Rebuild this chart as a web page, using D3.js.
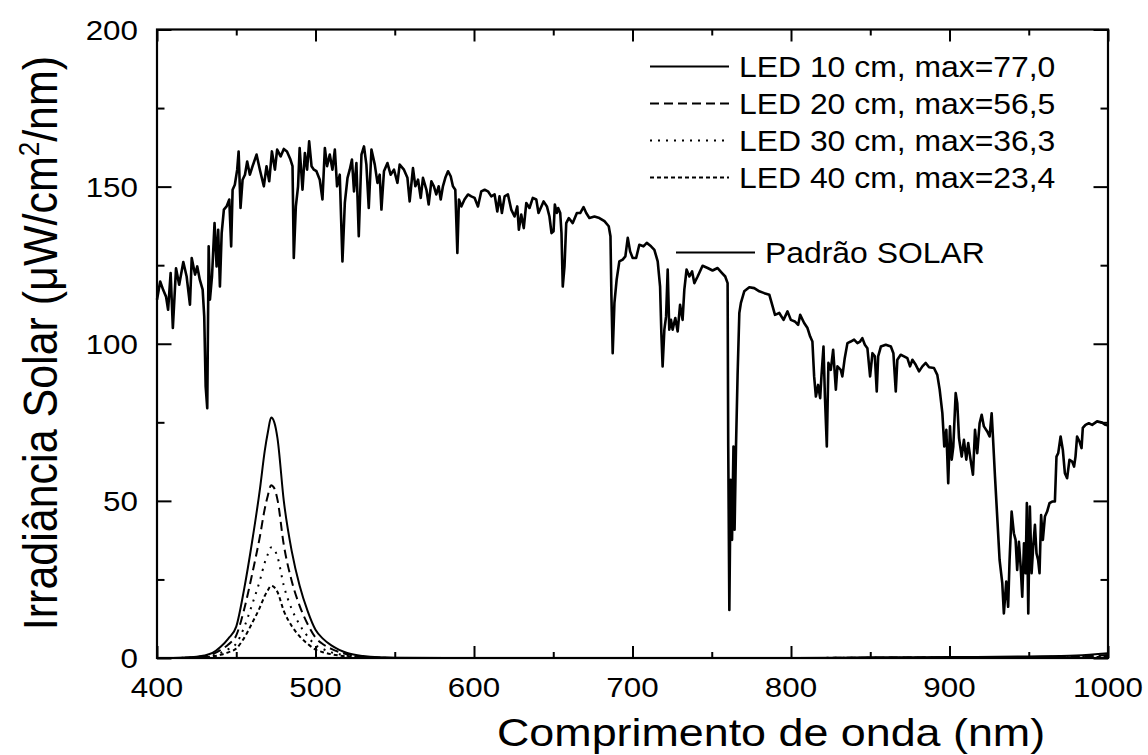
<!DOCTYPE html>
<html><head><meta charset="utf-8">
<script src="https://cdn.jsdelivr.net/npm/d3@7"></script>
<style>body{margin:0;background:#fff}svg{display:block}</style>
</head><body>
<svg id="c" width="1148" height="755"></svg>
<script>
// ---------- DATA ----------
const solarWavelength = [400,402,404,405.7,407,408.6,410,412,414,416.6,418.7,420.8,421.9,424,425.4,427,428.8,429.8,430.7,431.7,432.6,433.4,434.7,436.3,437.6,438.6,439.7,440.8,442.2,443.9,445.6,446.8,447.7,449.1,450.6,451.5,452.7,454,455.5,456.9,458.6,460.3,462.8,464.9,467.4,469.1,470.8,472.5,474.4,475.8,478,480,482,484.2,485.5,486.3,487.6,489,490,491.8,493.3,494.7,496,497.5,499,500.6,502.7,504.4,505.9,507.3,509,510.7,512.2,513.6,515.3,517,518.5,520.2,521.6,523,524.3,525.8,527.3,529,530.6,532.1,533.6,535.3,537.4,539.1,540.5,541.6,543.2,545.4,547.4,549.5,551.7,553.1,555.8,558,559.4,561.5,563,564.7,566.4,567.8,570,571.4,573.1,574.7,576.2,577.7,579,580.4,581.9,583.6,585.3,586.7,588.2,589.5,590.5,592,594,596.2,598.3,600.4,602.5,604.6,606.7,608.8,610.9,613,614.7,616.1,617.6,619.3,621.4,623.5,625.6,627.3,628.3,629.8,631.4,633,635,637.1,639.3,640.7,643.9,646,647.6,648.9,650.2,651,652.3,653.1,654.4,655.2,656,657.1,658.2,659.8,662.3,664.9,667,669.1,670.8,672.8,676,679.1,682.3,685,686.1,686.7,687.5,688.6,690,691.7,693.8,695.5,697,698.5,700.1,702.3,704.3,706.9,709,711.7,713.8,715.9,717.4,718.2,719,720.1,721.2,722.2,723.2,724.3,725.3,727,728.5,730,731.6,732.7,734.1,735.9,737.6,739,741.1,744.2,747.4,750.5,753.7,756.5,758.5,760,760.4,761.1,761.9,762.8,763.7,764.4,765.3,766.3,767.4,768.4,770.5,773.7,776.8,780,783.2,786.3,788.4,789.9,792.6,795.3,797.8,799.9,802.4,804.5,805.8,808.3,810.4,812.1,813.5,814.6,815.7,817.1,818.4,819.2,820.5,821.4,822.6,823.6,825.1,826.6,828.3,829.3,831.4,832.4,833.9,835.6,837.7,839.8,841.9,843.6,845,846.6,848.2,849.9,851.4,852.9,854.1,855,856.7,859.8,863,864.6,866.1,867.1,869.2,871.3,873.4,875.1,876.6,878.7,880.8,882.9,885,887.1,890.2,892.3,893.8,895.5,896.7,898,899.2,900.3,901.4,902.4,903.9,904.9,906,907.7,909.1,910.6,911.8,913.3,914.8,916.1,917.5,919,920.3,921.7,923.8,925.3,926.6,927.4,928.7,930.1,931.6,933.3,934.3,935.8,937,937.9,939.2,940.6,941.7,942.7,943.8,944.9,945.9,947,948,948.8,949.7,950.7,951.8,952.8,953.9,954.9,955.9,956.8,957.8,958.9,960.2,961.6,963.1,964.8,966.5,967.5,968.6,970.1,971.5,972.8,974.2,975.7,977.4,978.6,979.5,980.5,982,983.3,984.1,985.8,987.9,990,993.1,996.3,998.4,1000];
const solarIrradiance = [114,119.8,117,115,110.8,122.5,105,124,118.8,126,121.4,112.4,127.3,122,124.6,120.4,117.2,108.7,86.4,79.5,131,114,121.4,138.4,124.6,136.3,118.2,135.2,142.7,143.7,145.9,131,149,150.6,155.4,161.2,143.2,152.2,153.8,158,153.8,156.5,160.2,155.4,150.1,156.5,151.7,161.2,155.4,161.8,159.6,162,161.2,158.6,156.5,127.3,143.7,150.1,162.3,149,160.7,155.4,164.4,156.5,155.4,154.9,152.2,145.9,162.3,156.5,160.2,155.4,161.8,150.1,153.8,126.2,144.8,152.8,155.4,158.6,148.5,157.5,134.2,160.2,162.8,157,143.2,161.8,157,151.2,153.8,142.7,154.9,157.5,153.8,155.4,151.2,157,155.4,152.8,145.3,155.9,150.1,152.2,146.4,152.8,149,144.3,151.7,150.1,147.5,150.1,145.9,150.1,152.8,154.9,153.3,150.1,149,128.9,145.9,143.7,145.9,147.5,146.9,146.4,143.7,148.5,149,148.5,146.9,147.5,142.1,146.9,141.6,146.9,147.5,142.7,140.5,143.7,136.3,141.1,136.8,144.8,143.2,146.4,145.9,141.6,145.3,143.7,140.5,135.2,135.8,144.3,141.6,143.2,141.6,135.2,118.2,124.6,138.4,140,138.4,141.6,141.6,143.5,141.6,140,140.5,140,139,137.4,134.2,115.1,97,113,120.4,126.2,126.8,127.8,133.7,129.4,127.3,127.3,131.5,131,132.1,131,129.9,126.2,118.2,103.4,92.8,104.5,108.7,123.6,104.5,107.6,104.5,108.2,103.9,112.4,107.6,117.2,123.6,121.4,123,119.3,121.4,124.8,124.1,123.3,124.1,122.5,121.4,119.3,67.3,15.3,56.7,37.6,67.3,40.8,67.3,90,109.8,113,116.7,118,117.7,116.7,116.1,115.6,111.9,109.2,109.8,107.6,110.3,107.6,107.1,106,109.2,106.6,105,102.3,100.7,89.6,83.2,86.9,82.7,89.6,99.1,83.2,67.3,93.9,91.7,98.1,85.4,92.8,91.7,89.6,95.4,100.2,100.7,101.3,100.2,100.7,101.8,99.7,98.6,89.6,97,96,84.8,96,99.1,99.7,99.1,97,84.8,94.9,96.5,96,95.4,92.8,94.9,93.3,91.2,92.8,93.9,92.5,92.3,90.1,85.4,77.9,67.3,72.6,55.6,73.7,63.1,67.3,84.3,81.1,70,64.1,69.4,63.1,68.4,63.1,58.3,72.6,65.2,74.7,77.4,73.7,72.1,70.5,77.9,70.5,57.7,45,31.2,23.8,14.2,24.3,16.3,31.2,46.6,39.7,37.6,28,37,29.1,19.5,36.5,27,49.3,14.2,48.2,27,35.4,42.4,33.3,31.2,27,45.5,37.6,45,46.6,49.3,49.8,49.8,64.1,65.2,70.5,66.2,58.8,57.2,63.1,62.5,60.9,64.1,70.5,68.9,66.8,73.2,74.2,74.7,74.2,75.3,74.9,74.2,74];

const ledWavelength = [400,410,420,425,430,435,440,445,450,455,460,465,468,470,472,474,476,480,485,490,495,500,505,510,515,520,530,540,550,600,700,800,850,900,950,980,1000];
const led10 = [0,0,0.2,0.4,0.8,1.6,3.5,6.2,10,22,37,54,66,72,76.5,75,70,50,34,23,15,9,6,4,2.6,1.6,0.6,0.2,0.1,0,0,0,0.2,0.3,0.5,0.8,1.5];
const led20 = [0,0,0.1,0.3,0.6,1.2,2.5,4.3,7.2,15.5,26.6,38.9,47.5,51.8,55,54,50.4,36,24.5,16.6,10.8,6.5,4.3,2.9,1.9,1.2,0.4,0.1,0,0,0,0,0.1,0.2,0.3,0.5,1];
const led30 = [0,0,0.1,0.2,0.4,0.7,1.6,2.8,4.6,9.8,17,24.8,30.4,33.1,35.2,34.5,32.2,23,15.6,10.6,6.9,4.1,2.8,1.8,1.2,0.7,0.3,0.1,0,0,0,0,0.1,0.1,0.2,0.3,0.6];
const led40 = [0,0,0,0.1,0.2,0.5,1,1.8,3,6.4,11.1,16.2,19.8,21.6,23,22.5,21,15,10.2,6.9,4.5,2.7,1.8,1.2,0.8,0.5,0.2,0.1,0,0,0,0,0,0.1,0.1,0.2,0.4];

const ledLabels = ["LED 10 cm, max=77,0","LED 20 cm, max=56,5","LED 30 cm, max=36,3","LED 40 cm, max=23,4"];
const solarLabel = "Padrão SOLAR";
const xTickValues = [400,500,600,700,800,900,1000];
const xMinorTicks = [450,550,650,750,850,950];
const yTickValues = [0,50,100,150,200];
const yMinorTicks = [25,75,125,175];
const xTitle = "Comprimento de onda (nm)";

// ---------- CHART ----------
const svg = d3.select('#c');
const FONT = '"Liberation Sans", Arial, Helvetica, sans-serif';
const x = d3.scaleLinear().domain([400,1000]).range([157,1108]);
const y = d3.scaleLinear().domain([0,200]).range([658,29.5]);
const SX = 1.12;

function label(x0, y0, str, size, anchor, sx) {
  return svg.append('text')
    .attr('transform', `translate(${x0},${y0}) scale(${sx},1)`)
    .attr('text-anchor', anchor)
    .attr('font-family', FONT)
    .attr('font-size', size)
    .attr('fill', '#000')
    .text(str);
}
function tickGroup(axis, tx, ty, vals, size) {
  svg.append('g').attr('transform', `translate(${tx},${ty})`)
    .call(axis.tickValues(vals).tickSize(size).tickSizeOuter(0).tickFormat(''))
    .call(g => { g.select('.domain').remove(); g.selectAll('line').attr('stroke','#000').attr('stroke-width',2); });
}
// ticks on all four sides, pointing inward
tickGroup(d3.axisBottom(x), 0, y(0), xTickValues, -12);
tickGroup(d3.axisBottom(x), 0, y(0), xMinorTicks, -6);
tickGroup(d3.axisTop(x), 0, y(200), xTickValues, -12);
tickGroup(d3.axisTop(x), 0, y(200), xMinorTicks, -6);
tickGroup(d3.axisLeft(y), x(400), 0, yTickValues, -14.5);
tickGroup(d3.axisLeft(y), x(400), 0, yMinorTicks, -7.5);
tickGroup(d3.axisRight(y), x(1000), 0, yTickValues, -14.5);
tickGroup(d3.axisRight(y), x(1000), 0, yMinorTicks, -7.5);

// lines
const ledLine = d3.line().x((d,i)=>x(ledWavelength[i])).y(d=>y(d)).curve(d3.curveMonotoneX);
const ledSeries = [
  {v: led10, dash: null},
  {v: led20, dash: '9,5'},
  {v: led30, dash: '2,6'},
  {v: led40, dash: '4,3'}
];
ledSeries.forEach(s => {
  svg.append('path').attr('d', ledLine(s.v)).attr('fill','none').attr('stroke','#000')
    .attr('stroke-width', 2).attr('stroke-dasharray', s.dash);
});
const solarLine = d3.line().x((d,i)=>x(solarWavelength[i])).y(d=>y(d));
svg.append('path').attr('d', solarLine(solarIrradiance)).attr('fill','none')
  .attr('stroke','#000').attr('stroke-width',2.6).attr('stroke-linejoin','round');

// frame
svg.append('rect').attr('x', x(400)).attr('y', y(200)).attr('width', x(1000)-x(400)).attr('height', y(0)-y(200))
  .attr('fill','none').attr('stroke','#000').attr('stroke-width',2.2);

// tick labels
xTickValues.forEach(v => label(x(v), 697, String(v), 28, 'middle', SX));
yTickValues.forEach(v => label(138, y(v)+10, String(v), 28, 'end', SX));

// legend
ledLabels.forEach((t,i) => {
  const by = 76.5 + i*37;
  svg.append('line').attr('x1',650).attr('x2',729).attr('y1',by-10).attr('y2',by-10)
    .attr('stroke','#000').attr('stroke-width',1.8).attr('stroke-dasharray', ledSeries[i].dash);
  label(739, by, t, 29, 'start', 1.1);
});
svg.append('line').attr('x1',676).attr('x2',755).attr('y1',252.5).attr('y2',252.5)
  .attr('stroke','#000').attr('stroke-width',1.8);
label(765, 262.5, solarLabel, 29, 'start', 1.1);

// axis titles
label(497, 746, xTitle, 38, 'start', 1.18);
const yt = svg.append('text')
  .attr('transform', `translate(57,343) scale(${SX},1) rotate(-90)`)
  .attr('text-anchor','middle').attr('font-family',FONT).attr('font-size',43).attr('fill','#000');
yt.append('tspan').text('Irradiância Solar (μW/cm');
yt.append('tspan').attr('font-size',26).attr('dy',-16).text('2');
yt.append('tspan').attr('dy',16).text('/nm)');
</script>
</body></html>
